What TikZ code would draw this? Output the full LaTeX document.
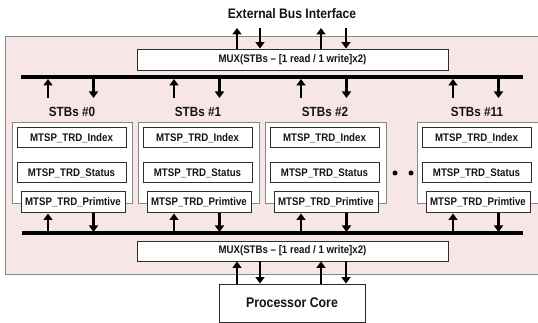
\documentclass[tikz,border=0pt]{standalone}
\usepackage{fontspec}
\setmainfont{Liberation Sans}[FakeStretch=0.88]
\usetikzlibrary{arrows.meta}
\definecolor{pinkbg}{RGB}{246,230,230}
\definecolor{boxgrey}{RGB}{135,135,135}
\definecolor{darkline}{RGB}{45,45,45}
\definecolor{txt}{RGB}{20,20,20}
\begin{document}
\begin{tikzpicture}[x=1pt,y=-1pt,
  regbox/.style={draw=darkline, line width=1pt, fill=white, inner sep=0pt,
    text=txt, font=\fontsize{11}{12}\selectfont\bfseries},
  stbbox/.style={draw=boxgrey, line width=0.8pt, fill=white},
  muxbox/.style={draw=darkline, line width=0.9pt, fill=white, inner sep=0pt,
    minimum width=311pt, text=txt, font=\fontsize{11}{12}\selectfont\bfseries},
  stblabel/.style={inner sep=0pt, text=txt, font=\fontsize{13.3}{14}\selectfont\bfseries},
  bus/.style={line width=3.5pt, draw=black},
  sig/.style={line width=2.6pt, draw=black, -{Triangle[width=9pt,length=6.5pt]}},
]
\useasboundingbox (0,0) rectangle (538,323);
\clip (0,0) rectangle (538,323);
% outer region
\fill[pinkbg] (5,37) rectangle (560,274);
\draw[boxgrey, line width=1pt] (560,37) -- (5,37) -- (5,274) -- (560,274);
% title
\node[inner sep=0pt, text=txt, font=\fontsize{13.8}{15}\selectfont\bfseries] (title) at (292,14) {External Bus Interface};
% mux boxes
\node[muxbox, minimum height=21pt] (muxtop) at (292.5,59.5) {MUX(STBs -- [1 read / 1 write]x2)};
\node[muxbox, minimum height=20pt] (muxbot) at (292.5,251) {MUX(STBs -- [1 read / 1 write]x2)};
% processor
\node[draw=darkline, line width=0.9pt, fill=white, minimum width=146pt, minimum height=38pt,
  inner sep=0pt, text=txt, font=\fontsize{14}{15}\selectfont\bfseries] (proc) at (292,303) {Processor Core};
% buses
\coordinate (bustL) at (21,77); \coordinate (bustR) at (523,77);
\coordinate (busbL) at (22,233); \coordinate (busbR) at (523,233);
\draw[bus] (bustL) -- (bustR);
\draw[bus] (busbL) -- (busbR);
% external arrows
\coordinate (e1) at (237,28); \coordinate (e2) at (260,28);
\coordinate (e3) at (321,28); \coordinate (e4) at (346,28);
\draw[sig] (muxtop.north -| e1) -- (e1);
\draw[sig] (e2) -- (muxtop.north -| e2);
\draw[sig] (muxtop.north -| e3) -- (e3);
\draw[sig] (e4) -- (muxtop.north -| e4);
% processor arrows
\coordinate (p1) at (237,0); \coordinate (p2) at (260,0);
\coordinate (p3) at (321,0); \coordinate (p4) at (346,0);
\draw[sig] (proc.north -| p1) -- (muxbot.south -| p1);
\draw[sig] (muxbot.south -| p2) -- (proc.north -| p2);
\draw[sig] (proc.north -| p3) -- (muxbot.south -| p3);
\draw[sig] (muxbot.south -| p4) -- (proc.north -| p4);
% STB groups
\foreach \x/\n/\w in {12/0/120, 138/1/121, 265/2/121, 417/11/140}{
  \draw[stbbox] (\x,122) rectangle ++(\w,81);
  \node[stblabel] (lab\n) at (\x+60,112) {STBs \#\n};
  \node[regbox, minimum width=109pt, minimum height=20pt] (idx\n) at (\x+59.5,138) {MTSP\_TRD\_Index};
  \node[regbox, minimum width=109pt, minimum height=20pt] (sts\n) at (\x+59.5,173) {MTSP\_TRD\_Status};
  \node[regbox, minimum width=104pt, minimum height=21pt] (prm\n) at (\x+61,202.5) {MTSP\_TRD\_Primtive};
  \coordinate (ua\n) at (\x+36,98);
  \coordinate (da\n) at (\x+81.5,98);
  \draw[sig] (ua\n) -- (ua\n |- 0,79);
  \draw[sig] (da\n |- 0,77) -- (da\n);
  \draw[sig] (prm\n.south -| ua\n) ++(0,20) -- (prm\n.south -| ua\n);
  \draw[sig] (prm\n.south -| da\n) -- ++(0,18.5);
}
% dots
\fill[black] (395,173) circle (2.5pt);
\fill[black] (411,173) circle (2.5pt);
\end{tikzpicture}
\end{document}
